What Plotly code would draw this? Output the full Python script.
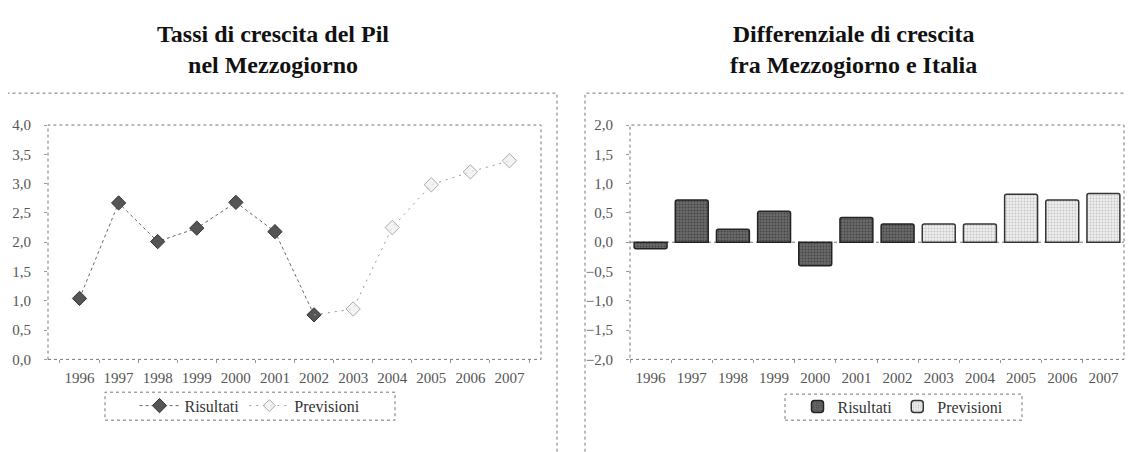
import plotly.graph_objects as go

# Dati
anni = ["1996", "1997", "1998", "1999", "2000", "2001", "2002",
        "2003", "2004", "2005", "2006", "2007"]
anni_risultati = anni[:7]
anni_previsioni = anni[7:]

pil_risultati = [1.04, 2.67, 2.01, 2.24, 2.68, 2.18, 0.76]
pil_previsioni = [0.86, 2.25, 2.98, 3.20, 3.39]

diff_risultati = [-0.11, 0.72, 0.22, 0.53, -0.40, 0.42, 0.31]
diff_previsioni = [0.31, 0.31, 0.82, 0.72, 0.83]

W, H = 1133, 452
OFF = 8  # margine del body html
SERIF = "Liberation Serif"


def px_x(v):
    return (v - OFF) / W


def px_y(v):
    return 1 - (v - OFF) / H


fig = go.Figure()

# Grafico 1: linee
fig.add_trace(go.Scatter(
    x=anni_risultati, y=pil_risultati, name="Risultati", mode="lines+markers",
    line=dict(color="#666666", width=1, dash="dot"),
    marker=dict(symbol="diamond", size=11, color="#555555", line=dict(color="#333333", width=1)),
    xaxis="x", yaxis="y", legend="legend"))
fig.add_trace(go.Scatter(
    x=[anni_risultati[-1]] + anni_previsioni, y=[pil_risultati[-1]] + pil_previsioni,
    name="Previsioni", mode="lines+markers",
    line=dict(color="#999999", width=1, dash="2px,5px"),
    marker=dict(symbol="diamond", size=[0] + [11] * len(pil_previsioni), color="#eeeeee",
                line=dict(color="#888888", width=1)),
    xaxis="x", yaxis="y", legend="legend"))

# Grafico 2: barre
fig.add_trace(go.Bar(
    x=anni_risultati, y=diff_risultati, name="Risultati",
    marker=dict(color="#5a5a5a", line=dict(color="#222222", width=1.5), cornerradius=2,
                pattern=dict(shape=".", fgcolor="#222222", bgcolor="#6a6a6a", size=3, solidity=0.35)),
    width=0.8, xaxis="x2", yaxis="y2", legend="legend2"))
fig.add_trace(go.Bar(
    x=anni_previsioni, y=diff_previsioni, name="Previsioni",
    marker=dict(color="#e4e4e4", line=dict(color="#333333", width=1.5), cornerradius=2,
                pattern=dict(shape=".", fgcolor="#999999", bgcolor="#eeeeee", size=3, solidity=0.3)),
    width=0.8, xaxis="x2", yaxis="y2", legend="legend2"))

tick_font = dict(family=SERIF, size=15, color="#555555")
ydom = [px_y(364), px_y(121)]

xcommon = dict(type="category", categoryorder="array", categoryarray=anni,
               showgrid=False, zeroline=False, showline=False, tickangle=0,
               ticks="outside", tickson="boundaries", ticklen=3, tickcolor="#999999",
               tickfont=tick_font, ticklabelstandoff=8)
ycommon = dict(showgrid=False, zeroline=False, showline=False, ticks="outside",
               ticklen=3, tickcolor="#999999", tickfont=tick_font,
               tickformat=".1f", dtick=0.5, ticklabelstandoff=10)

shapes = []
dot = dict(color="#777777", width=1, dash="dot")
# cornici esterne (il bordo inferiore esce dall'immagine)
for x0, x1 in [(3, 557), (585, 1129)]:
    shapes.append(dict(type="rect", xref="paper", yref="paper",
                       x0=px_x(x0), x1=px_x(x1), y0=px_y(470), y1=px_y(88), line=dot))
# assi e bordi area grafico
for xa, ya in [("x", "y"), ("x2", "y2")]:
    shapes.append(dict(type="rect", xref=xa + " domain", yref=ya + " domain",
                       x0=0, x1=1, y0=0, y1=1, line=dot))
shapes.append(dict(type="line", xref="x2 domain", yref="y2", x0=0, x1=1, y0=0, y1=0,
                   line=dot, layer="below"))
# riquadri legende
shapes += [
    dict(type="rect", xref="paper", yref="paper", x0=px_x(105), x1=px_x(395),
         y0=px_y(427), y1=px_y(398), line=dot),
    dict(type="rect", xref="paper", yref="paper", x0=px_x(785), x1=px_x(1022),
         y0=px_y(427), y1=px_y(400), line=dot),
]

title_font = dict(family=SERIF, size=24, color="#111111")
annotations = [
    dict(text="<b>Tassi di crescita del Pil<br>nel Mezzogiorno</b>", x=px_x(273), y=px_y(43),
         xref="paper", yref="paper", xanchor="center", yanchor="middle",
         showarrow=False, font=title_font, align="center"),
    dict(text="<b>Differenziale di crescita<br>fra Mezzogiorno e Italia</b>", x=px_x(853), y=px_y(43),
         xref="paper", yref="paper", xanchor="center", yanchor="middle",
         showarrow=False, font=title_font, align="center"),
]

legend_font = dict(family=SERIF, size=16, color="#333333")

fig.update_layout(
    width=W, height=H,
    margin=dict(l=0, r=0, t=0, b=0),
    paper_bgcolor="white", plot_bgcolor="white",
    separators=",.",
    barmode="overlay",
    xaxis=dict(domain=[px_x(48), px_x(541)], anchor="y", **xcommon),
    yaxis=dict(domain=ydom, anchor="x", range=[0, 4], **ycommon),
    xaxis2=dict(domain=[px_x(630), px_x(1124)], anchor="y2", **xcommon),
    yaxis2=dict(domain=ydom, anchor="x2", range=[-2, 2], **ycommon),
    legend=dict(orientation="h", x=px_x(250), y=px_y(412), xanchor="center", yanchor="middle",
                font=legend_font, bgcolor="rgba(0,0,0,0)", itemwidth=40),
    legend2=dict(orientation="h", x=px_x(903), y=px_y(413), xanchor="center", yanchor="middle",
                 font=legend_font, bgcolor="rgba(0,0,0,0)", itemwidth=30),
    shapes=shapes,
    annotations=annotations,
)

fig.write_html("out.html")
